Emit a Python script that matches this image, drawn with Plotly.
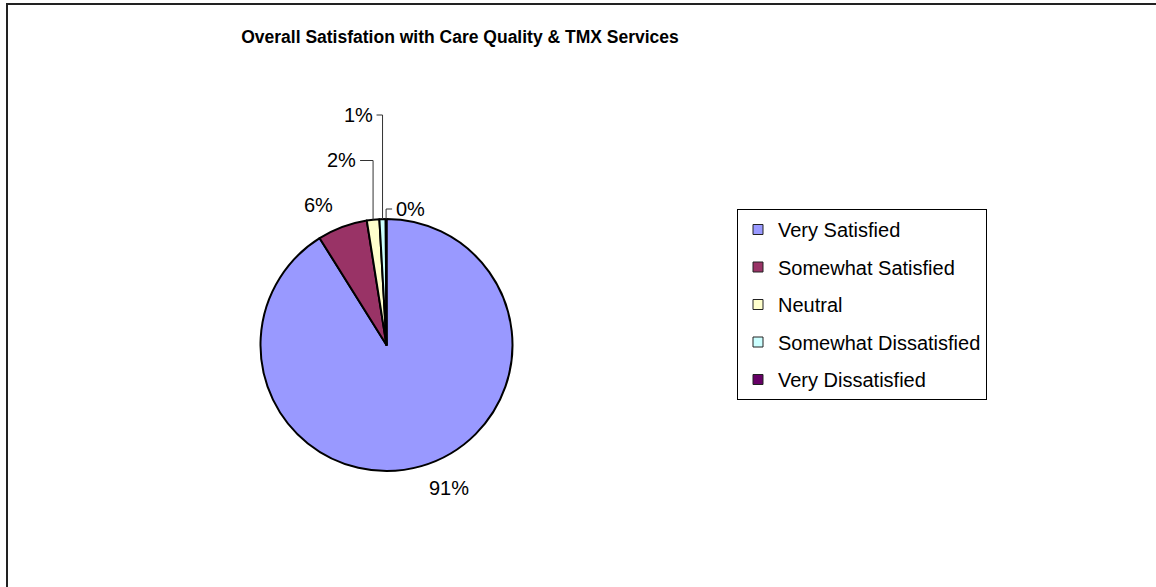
import math
import plotly.graph_objects as go

categories = ["Very Satisfied", "Somewhat Satisfied", "Neutral",
              "Somewhat Dissatisfied", "Very Dissatisfied"]
values = [91.1, 6.4, 1.6, 0.8, 0.1]
colors = ["#9999FF", "#993366", "#FFFFCC", "#CCFFFF", "#660066"]
title_text = "Overall Satisfation with Care Quality & TMX Services"

W, H = 1156, 587
cx, cy, r = 386.5, 345.0, 126.0
FONT = "Liberation Sans, Arial, sans-serif"

# label placement styles (layout only): free offsets or Excel-like elbow leader lines
label_style = [
    dict(kind="free", dx=28, dy=22),
    dict(kind="free", dx=-24, dy=-22),
    dict(kind="elbow", top=160.5, side=-1, run=13),
    dict(kind="elbow", top=115.0, side=-1, run=6),
    dict(kind="elbow", top=209.0, side=1, run=6),
]


def px(x):
    return x / W


def py(y):
    return 1 - y / H


fig = go.Figure()
fig.add_trace(go.Pie(
    labels=categories, values=values, sort=False, direction="clockwise",
    rotation=0,
    marker=dict(colors=colors, line=dict(color="black", width=2)),
    textinfo="none",
    showlegend=False, hoverinfo="label+percent",
    domain=dict(x=[px(cx - r), px(cx + r)], y=[py(cy + r), py(cy - r)]),
))

for cat, col in zip(categories, colors):
    fig.add_trace(go.Scatter(
        x=[None], y=[None], mode="markers", name=cat, legendgroup=cat,
        marker=dict(symbol="square", size=10, color=col,
                    line=dict(color="#222222", width=1)),
    ))

total = sum(values)
annotations = []
shapes = [dict(type="rect", xref="paper", yref="paper",
               x0=px(7), y0=-0.05, x1=1.05, y1=py(4),
               line=dict(color="#222222", width=2))]
cum = 0.0
for v, st in zip(values, label_style):
    mid = math.radians(360 * (cum + v / 2) / total)
    cum += v
    ex = cx + r * math.sin(mid)
    ey = cy - r * math.cos(mid)
    txt = f"{round(100 * v / total)}%"
    if st["kind"] == "free":
        annotations.append(dict(
            x=px(ex + st["dx"]), y=py(ey + st["dy"]), xref="paper", yref="paper",
            text=txt, showarrow=False, xanchor="center", yanchor="middle",
            font=dict(family=FONT, size=20, color="black")))
    else:
        hx = ex + st["side"] * st["run"]
        shapes.append(dict(
            type="path", xref="paper", yref="paper",
            path=f"M {px(ex)} {py(ey)} L {px(ex)} {py(st['top'])} L {px(hx)} {py(st['top'])}",
            line=dict(color="#333333", width=1)))
        annotations.append(dict(
            x=px(hx), y=py(st["top"]), xref="paper", yref="paper",
            text=txt, showarrow=False,
            xanchor="right" if st["side"] < 0 else "left", yanchor="middle",
            xshift=2 * st["side"],
            font=dict(family=FONT, size=20, color="black")))

fig.update_layout(
    width=W, height=H,
    margin=dict(l=0, r=0, t=0, b=0),
    paper_bgcolor="white", plot_bgcolor="white",
    xaxis=dict(visible=False), yaxis=dict(visible=False),
    title=dict(text="<b>" + title_text + "</b>", x=px(460), xanchor="center",
               y=py(37), yanchor="middle",
               font=dict(family=FONT, size=17.5, color="black")),
    legend=dict(x=px(737), y=py(209), xanchor="left", yanchor="top",
                bordercolor="black", borderwidth=1, bgcolor="white",
                font=dict(family=FONT, size=20, color="black"),
                tracegroupgap=8.5, traceorder="grouped"),
    shapes=shapes,
    annotations=annotations,
    showlegend=True,
)

fig.write_html("out.html",
               config={"displayModeBar": False},
               post_script="document.body.style.margin='0';"
                           "document.body.style.overflow='hidden';")
